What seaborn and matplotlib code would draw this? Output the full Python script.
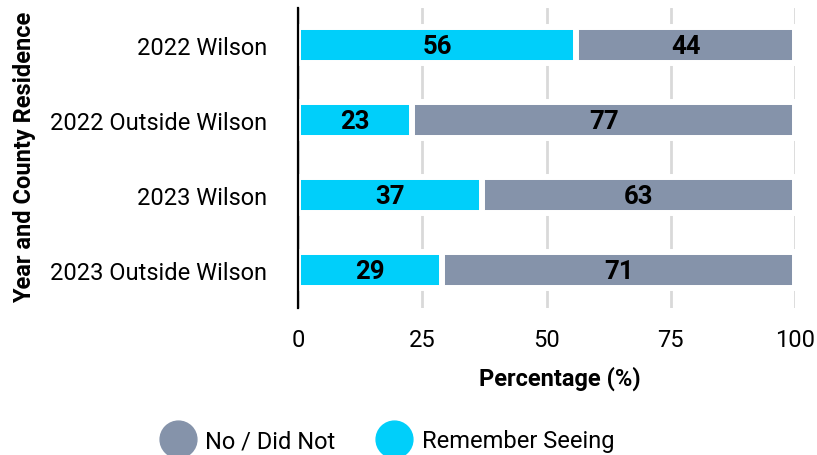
import matplotlib
matplotlib.use("Agg")
import matplotlib.pyplot as plt
from matplotlib.lines import Line2D
import seaborn as sns
import pandas as pd

groups = ["2022 Wilson", "2022 Outside Wilson", "2023 Wilson", "2023 Outside Wilson"]
remember_seeing = [56, 23, 37, 29]
did_not = [44, 77, 63, 71]
x_ticks = [0, 25, 50, 75, 100]

CYAN = "#00CFFA"
SLATE = "#8593AA"
INK = "#000000"

sns.set_theme(style="white")
plt.rcParams["font.family"] = ["Roboto", "DejaVu Sans"]

df = pd.DataFrame({
    "group": groups,
    "remember": remember_seeing,
    "no": did_not,
})
df["total"] = df["remember"] + df["no"]

fig = plt.figure(figsize=(8.17, 4.56), dpi=100)
ax = fig.add_axes([298 / 817, 1 - 308.5 / 456, (795 - 298) / 817, 300 / 456])

# full-length bars for the "no" share, then the "remember" share on top
sns.barplot(data=df, x="total", y="group", color=SLATE, saturation=1,
            width=0.47, edgecolor="white", linewidth=4.3, ax=ax, zorder=2)
sns.barplot(data=df, x="remember", y="group", color=CYAN, saturation=1,
            width=0.47, edgecolor="white", linewidth=4.3, ax=ax, zorder=3)

for i, (r, n) in enumerate(zip(df["remember"], df["no"])):
    ax.text(r / 2, i + 0.02, f"{r}", ha="center", va="center", fontsize=18.5,
            fontweight="bold", color=INK, zorder=5)
    ax.text(r + n / 2, i + 0.02, f"{n}", ha="center", va="center", fontsize=18.5,
            fontweight="bold", color=INK, zorder=5)

ax.set_xlim(0, 100)
ax.set_ylim(3.5, -0.5)
ax.set_xticks(x_ticks)
ax.set_xticklabels([str(t) for t in x_ticks])
ax.xaxis.grid(True, color="#D9D9D9", linewidth=2, zorder=0)
ax.set_axisbelow(True)

for side in ["top", "right", "bottom"]:
    ax.spines[side].set_visible(False)
ax.spines["left"].set_color("black")
ax.spines["left"].set_linewidth(1.6)
ax.spines["left"].set_zorder(6)

ax.tick_params(axis="y", length=0, pad=22, labelsize=17, labelcolor=INK)
ax.tick_params(axis="x", length=0, pad=15, labelsize=17, labelcolor=INK)

ax.set_xlabel("Percentage (%)", fontsize=17, fontweight="bold", color=INK)
ax.xaxis.set_label_coords(0.527, -58 / 300)
ax.set_ylabel("Year and County Residence", fontsize=17, fontweight="bold",
              color=INK)
ax.yaxis.set_label_coords(-262 / 497, 0.505)

handles = [
    Line2D([0], [0], marker="o", linestyle="none", markersize=26.5,
           markerfacecolor=SLATE, markeredgecolor=SLATE, label="No / Did Not"),
    Line2D([0], [0], marker="o", linestyle="none", markersize=26.5,
           markerfacecolor=CYAN, markeredgecolor=CYAN, label="Remember Seeing"),
]
leg = fig.legend(handles=handles, loc="center",
                 bbox_to_anchor=(389 / 817, 1 - 442 / 456),
                 ncol=2, frameon=False, fontsize=17, handletextpad=0.55,
                 columnspacing=1.9, handlelength=1.2)
for t in leg.get_texts():
    t.set_color(INK)

fig.savefig("out.png", dpi=100)
